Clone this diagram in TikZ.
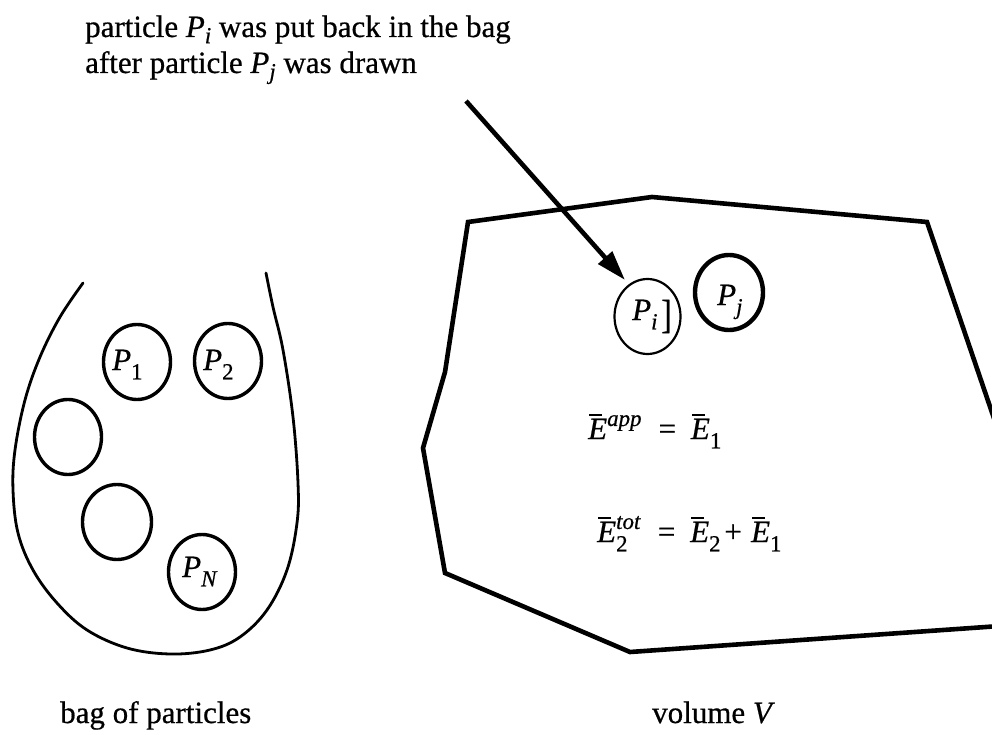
\documentclass[tikz,border=0pt]{standalone}
\usepackage{fontspec}
\usepackage{graphicx}
\setmainfont{Liberation Serif}[FakeBold=0.6]
\usetikzlibrary{arrows.meta,shapes.geometric}
\newcommand{\lo}[1]{\raisebox{-0.3em}{\scalebox{0.74}{#1}}}
\newcommand{\clo}[1]{\raisebox{-0.2em}{\scalebox{0.74}{#1}}}
\newcommand{\hi}[1]{\raisebox{0.42em}{\scalebox{0.74}{#1}}}
\newcommand{\bE}{\makebox[0pt][l]{\hspace{0.03em}\rule[0.74em]{0.42em}{0.07em}}\textit{E}}
\begin{document}
\begin{tikzpicture}[x=1pt,y=-1pt,
  font=\fontsize{31}{36}\selectfont,
  txt/.style={inner sep=0pt, anchor=base west},
  particle/.style={ellipse, draw, line width=3.4pt, inner sep=0pt, minimum width=67pt, minimum height=75pt},
  outline/.style={line width=4.6pt, line join=miter},
  bagline/.style={line width=2.8pt, line cap=round}]
\fill[white] (0,0) rectangle (992,735);
\useasboundingbox (0,0) rectangle (992,735);
\clip (0,0) rectangle (992,735);

% caption
\node[txt] (cap) at (85,37) {\begin{tabular}[t]{@{}l@{}}particle \textit{P}\clo{\textit{i}} was put back in the bag\\
after particle \textit{P}\clo{\textit{j}} was drawn\end{tabular}};

% bag
\draw[bagline] plot[smooth, tension=0.6] coordinates {
  (83,283) (60,317) (40,357) (25,400) (15,450) (13,490) (18,533) (33,570)
  (57,603) (87,630) (127,648) (170,654) (210,650) (240,637) (267,610)
  (287,570) (297,523) (298,483) (293,417) (283,350) (273,307) (266,273)};

\node[particle] (p1) at (137,362) {};
\node[particle] (p2) at (228,361) {};
\node[particle] (e1) at (68,437) {};
\node[particle, minimum width=69pt] (e2) at (117,522) {};
\node[particle] (pN) at (202,572) {};
\node[txt] (t1) at (112,370) {\textit{P}\lo{1}};
\node[txt] (t2) at (203,370) {\textit{P}\lo{2}};
\node[txt] (tN) at (182,577) {\textit{P}\lo{\textit{N}}};

% volume
\draw[outline] (468,222) -- (652,197) -- (927,222) -- (1000,436) -- (1000,626)
  -- (630,652) -- (445,573) -- (423,448) -- (445,372) -- cycle;

\node[particle, line width=2.2pt, minimum width=66pt] (pi) at (647.5,316.5) {};
\node[particle, line width=4.4pt, minimum width=68pt] (pj) at (729,292.5) {};
\node[txt] (ti) at (632,320) {\textit{P}\lo{\textit{i}}\hspace{0.12em}\raisebox{-0.25em}{\scalebox{1}[1.3]{]}}};
\node[txt] (tj) at (717,305) {\textit{P}\lo{\textit{j}}};

\node[txt] (eq1) at (588,439) {\bE\hi{\textit{app}}\hspace{0.55em}=\hspace{0.48em}\bE\lo{1}};
\node[txt] (eq2) at (597,542) {\bE\makebox[0pt][l]{\lo{2}}\hi{\textit{tot}}\hspace{0.55em}=\hspace{0.48em}\bE\lo{2}\hspace{0.12em}+\hspace{0.3em}\bE\lo{1}};

% arrow
\coordinate (astart) at (466,101);
\coordinate (atip) at (625,280);
\draw[line width=4.6pt, -{Triangle[length=30pt,width=18pt]}] (astart) -- (atip);

% labels
\node[txt] (bagl) at (60,723) {bag of particles};
\node[txt] (voll) at (652,723) {volume \textit{V}};
\end{tikzpicture}
\end{document}
